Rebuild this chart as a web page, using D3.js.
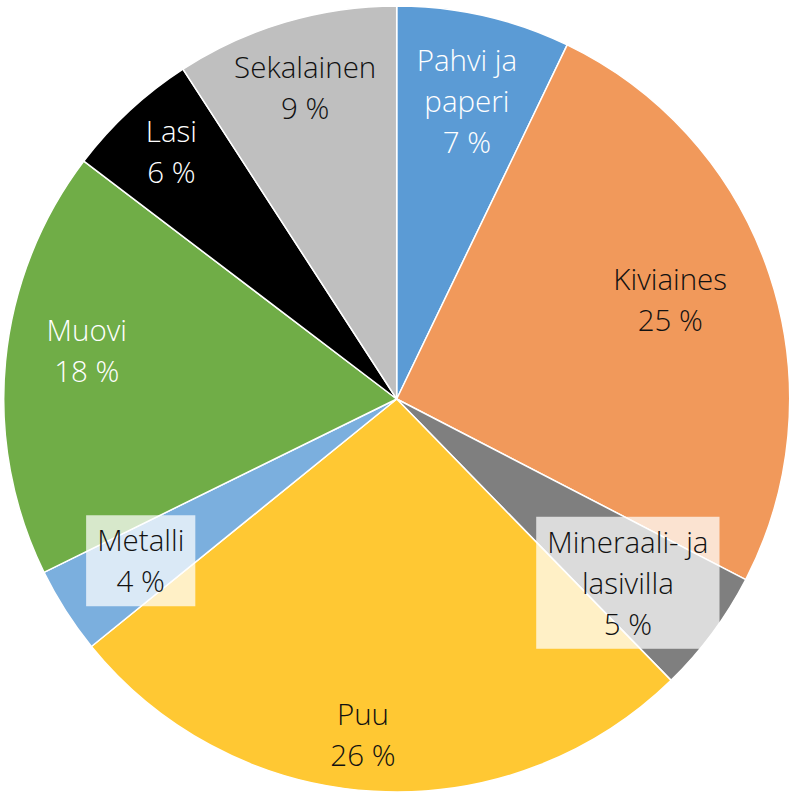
<!DOCTYPE html>
<html>
<head>
<meta charset="utf-8">
<script src="https://cdn.jsdelivr.net/npm/d3@7/dist/d3.min.js"></script>
<style>
  html, body { margin: 0; padding: 0; background: #fff; }
  svg { display: block; }
  text { font-family: "Open Sans", "Liberation Sans", sans-serif; font-weight: 300; }
</style>
</head>
<body>
<svg id="chart" width="791" height="800"></svg>
<script>
// ---- Data ----
const categories = ["Pahvi ja paperi", "Kiviaines", "Mineraali- ja lasivilla", "Puu", "Metalli", "Muovi", "Lasi", "Sekalainen"];
const labelLines = [["Pahvi ja", "paperi"], ["Kiviaines"], ["Mineraali- ja", "lasivilla"], ["Puu"], ["Metalli"], ["Muovi"], ["Lasi"], ["Sekalainen"]];
const values = [7.14, 25.45, 5.10, 26.45, 3.57, 17.61, 5.50, 9.15];
const percentLabels = ["7 %", "25 %", "5 %", "26 %", "4 %", "18 %", "6 %", "9 %"];

// ---- Styles / layout ----
const colors = ["#5B9BD5", "#F1995B", "#7F7F7F", "#FFC833", "#7BAFDE", "#70AD47", "#000000", "#BFBFBF"];
const textColors = ["#ffffff", "#111111", "#111111", "#111111", "#111111", "#ffffff", "#ffffff", "#111111"];
const labelRadius = [0.779, 0.740, 0.752, 0.858, 0.771, 0.798, 0.851, 0.826];
const labelAngleNudge = [0.4, -1.4, 2.0, 2.4, 0.25, 3.3, 0.5, 0.1];
const boxed = [false, false, true, false, true, false, false, false];

const cx = 396.7, cy = 399, R = 393;
const fontSize = 29.5, lineH = 41;

const svg = d3.select("#chart");
const g = svg.append("g").attr("transform", `translate(${cx},${cy})`);

const pie = d3.pie().sort(null).value(d => d)(values);
const arc = d3.arc().innerRadius(0).outerRadius(R);

g.selectAll("path.slice").data(pie).join("path")
  .attr("class", "slice")
  .attr("d", arc)
  .attr("fill", (d, i) => colors[i])
  .attr("stroke", "#fff")
  .attr("stroke-width", 1.5)
  .attr("stroke-linejoin", "round");

const labels = g.selectAll("g.label").data(pie).join("g").attr("class", "label")
  .attr("transform", (d, i) => {
    const a = (d.startAngle + d.endAngle) / 2 + labelAngleNudge[i] * Math.PI / 180;
    const r = R * labelRadius[i];
    return `translate(${r * Math.sin(a)},${-r * Math.cos(a)})`;
  });

labels.each(function (d, i) {
  const sel = d3.select(this);
  const lines = labelLines[i].concat([percentLabels[i]]);
  const n = lines.length;
  const t = sel.append("text")
    .attr("text-anchor", "middle")
    .attr("font-size", fontSize)
    .attr("fill", textColors[i]);
  lines.forEach((ln, k) => {
    t.append("tspan")
      .attr("x", 0)
      .attr("y", (k - (n - 1) / 2) * lineH + fontSize * 0.36)
      .text(ln);
  });
  if (boxed[i]) {
    const bb = t.node().getBBox();
    const padX = 11, padTop = 4, padBot = 5;
    sel.insert("rect", "text")
      .attr("x", bb.x - padX)
      .attr("y", bb.y - padTop)
      .attr("width", bb.width + 2 * padX)
      .attr("height", bb.height + padTop + padBot)
      .attr("fill", "#ffffff")
      .attr("fill-opacity", 0.72);
  }
});
</script>
</body>
</html>
